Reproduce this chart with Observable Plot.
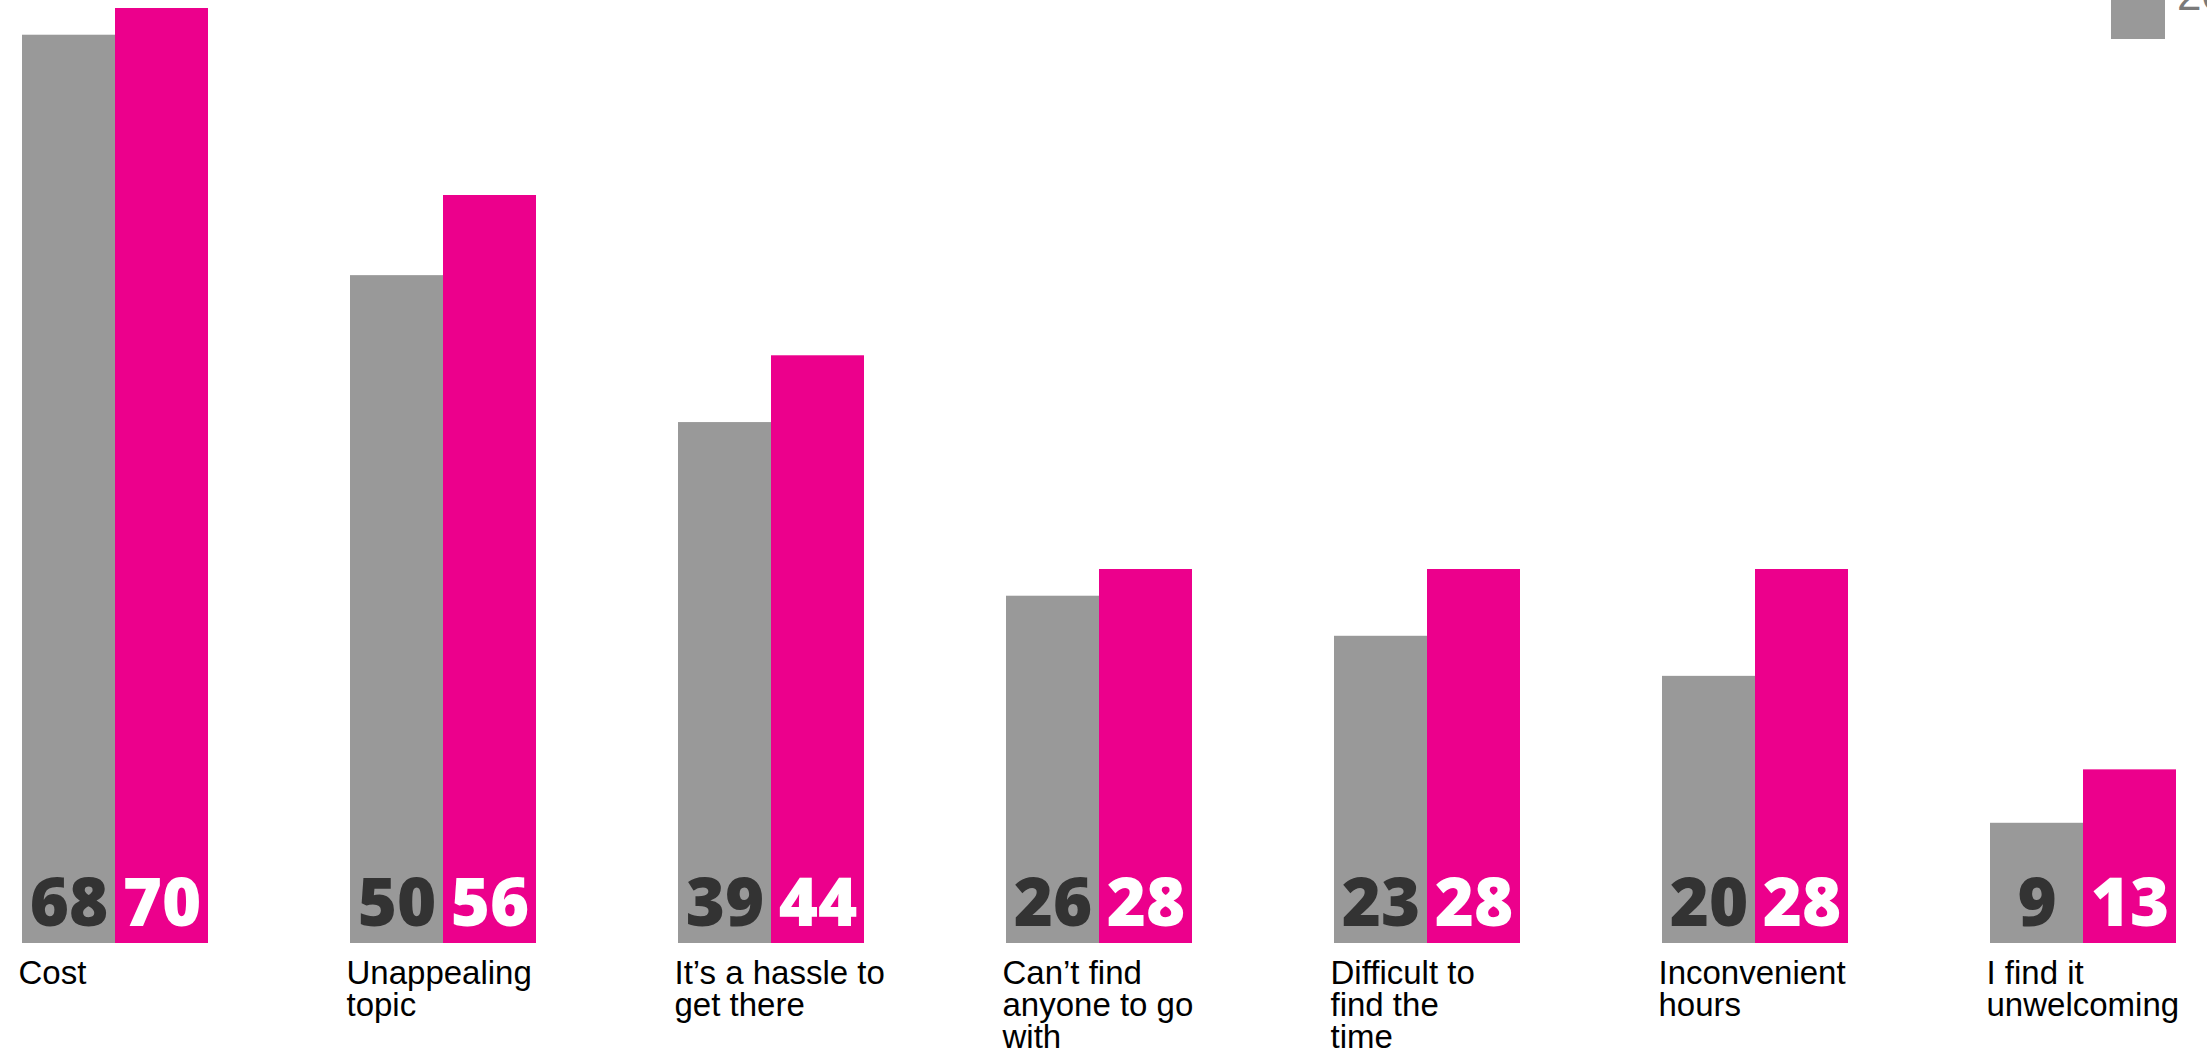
<!DOCTYPE html>
<html>
<head>
<meta charset="utf-8">
<script src="https://cdn.jsdelivr.net/npm/d3@7"></script>
<script src="https://cdn.jsdelivr.net/npm/@observablehq/plot@0.6"></script>
<style>
  html, body { margin: 0; padding: 0; background: #fff; overflow: hidden; }
  #wrap { position: relative; width: 2207px; height: 1057px; }
  #legend { position: absolute; left: 2111px; top: -15px; display: flex; align-items: flex-start; }
  #legend .sw { width: 54px; height: 54px; background: #999999; }
  #legend .lab { margin-left: 12px; margin-top: -12px; font: 44px/44px "Liberation Sans", Arial, sans-serif; color: #7a7a7a; white-space: nowrap; }
</style>
</head>
<body>
<div id="wrap">
  <div id="chart"></div>
  <div id="legend"><div class="sw"></div><div class="lab" id="leglab"></div></div>
</div>
<script>
const categories = [
  "Cost",
  "Unappealing\ntopic",
  "It’s a hassle to\nget there",
  "Can’t find\nanyone to go\nwith",
  "Difficult to\nfind the\ntime",
  "Inconvenient\nhours",
  "I find it\nunwelcoming"
];
const seriesNames = ["2012", "2013"];
const valuesA = [68, 50, 39, 26, 23, 20, 9];
const valuesB = [70, 56, 44, 28, 28, 28, 13];

const data = [];
categories.forEach((c, i) => {
  data.push({category: c, series: seriesNames[0], value: valuesA[i]});
  data.push({category: c, series: seriesNames[1], value: valuesB[i]});
});

document.getElementById("leglab").textContent = seriesNames[0];

const chart = Plot.plot({
  width: 2207,
  height: 1057,
  marginTop: 8,
  marginBottom: 114,
  marginLeft: 20,
  marginRight: 31,
  style: {background: "#fff"},
  fx: {domain: categories, paddingInner: 0.43, paddingOuter: 0, axis: null},
  x: {domain: seriesNames, padding: 0, axis: null},
  y: {domain: [0, 70], axis: null},
  color: {domain: seriesNames, range: ["#999999", "#EC008C"]},
  marks: [
    Plot.barY(data, {fx: "category", x: "series", y: "value", fill: "series"}),
    Plot.text(data, {
      fx: "category", x: "series", y: 0, text: d => String(d.value),
      lineAnchor: "bottom", dy: -18,
      fontSize: 67, fontWeight: 800, fontFamily: "'Open Sans', 'Noto Sans', sans-serif",
      fill: d => d.series === seriesNames[0] ? "#333333" : "#ffffff"
    }),
    Plot.text(categories, {
      fx: d => d, text: d => d,
      frameAnchor: "bottom-left", textAnchor: "start", lineAnchor: "top",
      dy: 18, dx: -3, lineHeight: 0.97,
      fontSize: 33, fontFamily: "'Liberation Sans', Arial, sans-serif", fill: "#000"
    })
  ]
});
document.getElementById("chart").appendChild(chart);
</script>
</body>
</html>
